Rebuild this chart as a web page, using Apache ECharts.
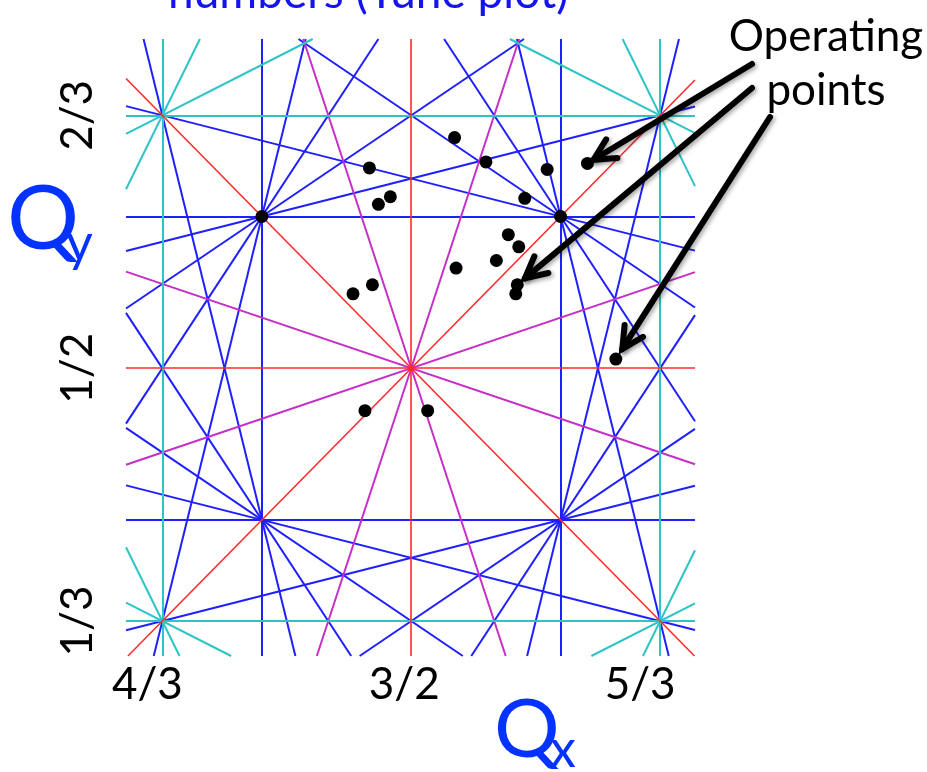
<!DOCTYPE html>
<html>
<head>
<meta charset="utf-8">
<script src="https://cdn.jsdelivr.net/npm/echarts@6/dist/echarts.min.js"></script>
<style>
  html, body { margin: 0; padding: 0; background: #ffffff; }
  #chart { width: 927px; height: 772px; }
</style>
</head>
<body>
<div id="chart"></div>
<script>
// Tune window shown on each axis
const qxRange = [1.309, 1.690];
const qyRange = [0.3103, 0.717];

// Resonance lines m*Qx + n*Qy = p, grouped by order |m|+|n|
const resonances2 = [[2, 0, 3], [0, 2, 1], [1, 1, 2], [1, -1, 1]];
const resonances3 = [
  [3, 0, 4], [3, 0, 5], [0, 3, 1], [0, 3, 2],
  [2, 1, 3], [2, 1, 4], [1, 2, 2], [1, 2, 3],
  [2, -1, 2], [2, -1, 3], [1, -2, 0], [1, -2, 1]
];
const resonances4 = [[3, 1, 5], [3, -1, 4], [1, 3, 3], [1, -3, 0]];
const resonances5 = [
  [5, 0, 7], [5, 0, 8], [0, 5, 2], [0, 5, 3],
  [4, 1, 6], [4, 1, 7], [4, -1, 5], [4, -1, 6],
  [1, 4, 3], [1, 4, 4], [1, -4, -1], [1, -4, 0],
  [3, 2, 5], [3, 2, 6], [3, -2, 3], [3, -2, 4],
  [2, 3, 4], [2, 3, 5], [2, -3, 1], [2, -3, 2]
];

// Operating points (Qx, Qy)
const pointsQx = [1.529, 1.472, 1.550, 1.591, 1.618, 1.486, 1.478, 1.576, 1.565, 1.572, 1.557,
                  1.530, 1.571, 1.570, 1.474, 1.461, 1.637, 1.511, 1.469, 1.400, 1.600];
const pointsQy = [0.652, 0.632, 0.636, 0.631, 0.635, 0.613, 0.608, 0.612, 0.588, 0.580, 0.571,
                  0.566, 0.555, 0.549, 0.555, 0.549, 0.506, 0.472, 0.472, 0.600, 0.600];

// Points singled out by the "Operating points" callout
const calloutTargets = [4, 12, 16];

// Tick positions and their fraction labels
const xTickValues = [4 / 3, 3 / 2, 5 / 3];
const xTickLabels = ['4/3', '3/2', '5/3'];
const yTickValues = [1 / 3, 1 / 2, 2 / 3];
const yTickLabels = ['1/3', '1/2', '2/3'];

const FONT = 'Lato, "Open Sans", sans-serif';

// Clip an infinite resonance line to the visible tune window
function clipLine(m, n, p) {
  const [x0, x1] = qxRange, [y0, y1] = qyRange, eps = 1e-9;
  const pts = [];
  if (n !== 0) {
    for (const x of [x0, x1]) {
      const y = (p - m * x) / n;
      if (y >= y0 - eps && y <= y1 + eps) pts.push([x, y]);
    }
  }
  if (m !== 0) {
    for (const y of [y0, y1]) {
      const x = (p - n * y) / m;
      if (x >= x0 - eps && x <= x1 + eps) pts.push([x, y]);
    }
  }
  if (pts.length < 2) return null;
  let best = null, bd = -1;
  for (let i = 0; i < pts.length; i++) {
    for (let j = i + 1; j < pts.length; j++) {
      const d = Math.hypot(pts[i][0] - pts[j][0], pts[i][1] - pts[j][1]);
      if (d > bd) { bd = d; best = [pts[i], pts[j]]; }
    }
  }
  return bd > 0 ? best : null;
}

function segments(list) {
  return list.map(([m, n, p]) => clipLine(m, n, p)).filter(Boolean).map(c => ({ coords: c }));
}

// Higher orders underneath, lower orders drawn on top
const orderLayers = [
  { name: '5th order', lines: resonances5, color: '#1f1fff', width: 2 },
  { name: '4th order', lines: resonances4, color: '#c62fc6', width: 2 },
  { name: '3rd order', lines: resonances3, color: '#2cc4c6', width: 2 },
  { name: '2nd order', lines: resonances2, color: '#ff2a2a', width: 1.6 }
];

function labelIndex(values, v) {
  let k = 0, bd = Infinity;
  values.forEach((t, i) => { const d = Math.abs(t - v); if (d < bd) { bd = d; k = i; } });
  return k;
}

const chart = echarts.init(document.getElementById('chart'), null, { renderer: 'canvas' });

chart.setOption({
  animation: false,
  backgroundColor: '#ffffff',
  grid: { left: 126, top: 39, width: 569, height: 617, containLabel: false, outerBoundsMode: 'none' },
  xAxis: {
    type: 'value', min: qxRange[0], max: qxRange[1],
    axisLine: { show: false }, axisTick: { show: false }, splitLine: { show: false },
    axisLabel: {
      customValues: xTickValues,
      margin: 7,
      color: '#000', fontFamily: FONT, fontSize: 44,
      formatter: v => {
        const i = labelIndex(xTickValues, v);
        return '{l' + i + '|' + xTickLabels[i] + '}';
      },
      rich: {
        l0: { fontFamily: FONT, fontSize: 44, color: '#000', padding: [0, 30, 0, 0] },
        l1: { fontFamily: FONT, fontSize: 44, color: '#000', padding: [0, 14, 0, 0] },
        l2: { fontFamily: FONT, fontSize: 44, color: '#000', padding: [0, 40, 0, 0] }
      }
    }
  },
  yAxis: {
    type: 'value', min: qyRange[0], max: qyRange[1],
    axisLine: { show: false }, axisTick: { show: false }, splitLine: { show: false },
    axisLabel: {
      customValues: yTickValues,
      rotate: 90,
      margin: 26,
      color: '#000', fontFamily: FONT, fontSize: 44,
      formatter: v => yTickLabels[labelIndex(yTickValues, v)]
    }
  },
  series: orderLayers.map((o, i) => ({
    type: 'lines',
    name: o.name,
    coordinateSystem: 'cartesian2d',
    polyline: false,
    silent: true,
    z: 2 + i,
    data: segments(o.lines),
    lineStyle: { color: o.color, width: o.width, opacity: 1, curveness: 0 }
  })).concat([{
    type: 'scatter',
    name: 'Operating points',
    data: pointsQx.map((x, i) => [x, pointsQy[i]]),
    symbol: 'circle',
    symbolSize: 13,
    itemStyle: { color: '#000000', opacity: 1 },
    silent: true,
    z: 10
  }])
});

// Callout arrows: from the label towards the chosen points
const arrowStarts = [[752, 64], [752, 88], [770, 117]];
const arrowGaps = [7, 10, 12];
const arrowGraphics = [];
calloutTargets.forEach((idx, k) => {
  const p = chart.convertToPixel({ gridIndex: 0 }, [pointsQx[idx], pointsQy[idx]]);
  const s = arrowStarts[k];
  const dx = s[0] - p[0], dy = s[1] - p[1], len = Math.hypot(dx, dy);
  const ux = dx / len, uy = dy / len;
  const tip = [p[0] + ux * arrowGaps[k], p[1] + uy * arrowGaps[k]];
  const head = 24, ang = 27 * Math.PI / 180;
  const rot = (a) => [ux * Math.cos(a) - uy * Math.sin(a), ux * Math.sin(a) + uy * Math.cos(a)];
  const w1 = rot(ang), w2 = rot(-ang);
  const shadow = { shadowBlur: 4, shadowColor: 'rgba(0,0,0,0.35)', shadowOffsetX: 2, shadowOffsetY: 2 };
  arrowGraphics.push({
    type: 'polyline', silent: true, z: 20,
    shape: { points: [s, tip] },
    style: Object.assign({ stroke: '#000', lineWidth: 6, lineCap: 'round', fill: null }, shadow)
  });
  arrowGraphics.push({
    type: 'polyline', silent: true, z: 20,
    shape: { points: [[tip[0] + w1[0] * head, tip[1] + w1[1] * head], tip, [tip[0] + w2[0] * head, tip[1] + w2[1] * head]] },
    style: Object.assign({ stroke: '#000', lineWidth: 6, lineCap: 'round', lineJoin: 'miter', fill: null }, shadow)
  });
});

chart.setOption({
  graphic: arrowGraphics.concat([
    {
      type: 'text', silent: true, z: 30, left: 168, top: -30,
      style: { text: 'numbers (Tune plot)', fill: '#1414f0', font: '46px ' + FONT }
    },
    {
      type: 'text', silent: true, z: 30, x: 826, y: 10,
      style: { text: 'Operating\npoints', fill: '#000', font: '44px ' + FONT, align: 'center', lineHeight: 54 }
    },
    {
      type: 'text', silent: true, z: 30, x: 7, y: 175,
      style: { text: 'Q', fill: '#0433ff', font: '90px ' + FONT }
    },
    {
      type: 'text', silent: true, z: 30, x: 66, y: 218,
      style: { text: 'y', fill: '#0433ff', font: '52px ' + FONT }
    },
    {
      type: 'text', silent: true, z: 30, x: 494, y: 690,
      style: { text: 'Q', fill: '#0433ff', font: '82px ' + FONT }
    },
    {
      type: 'text', silent: true, z: 30, x: 550, y: 724,
      style: { text: 'x', fill: '#0433ff', font: '52px ' + FONT }
    }
  ])
});
</script>
</body>
</html>
